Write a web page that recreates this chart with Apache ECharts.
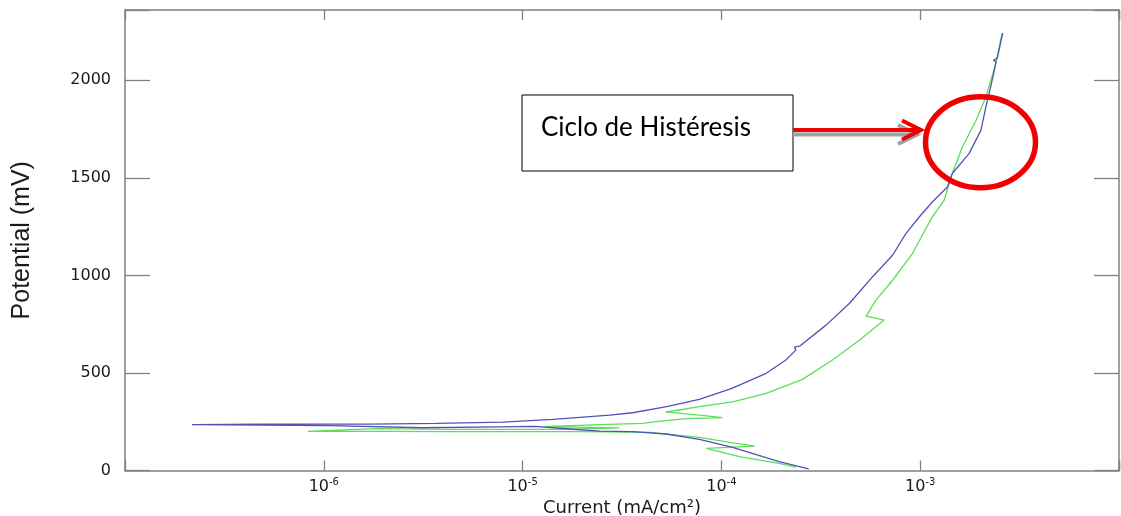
<!DOCTYPE html>
<html>
<head>
<meta charset="utf-8">
<script src="https://cdn.jsdelivr.net/npm/echarts@6/dist/echarts.min.js"></script>
<style>
  html, body { margin: 0; padding: 0; background: #fff; }
  #chart { width: 1121px; height: 516px; }
</style>
</head>
<body>
<div id="chart"></div>
<script>
// ---- data ----
// forward scan (blue): current (mA/cm²) and potential (mV), in scan order
const blueCurrent = [2.75e-4, 1.95e-4, 1.14e-4, 7.74e-5, 5.27e-5, 3.58e-5, 2.44e-5, 1.66e-5, 1.15e-5, 7.4e-6,
  3.14e-6, 1.07e-6, 2.17e-7, 4.76e-7, 1.70e-6, 3.68e-6, 7.92e-6, 1.42e-5, 2.09e-5, 2.74e-5,
  3.58e-5, 5.30e-5, 7.74e-5, 1.13e-4, 1.68e-4, 2.11e-4, 2.37e-4, 2.33e-4, 2.49e-4, 3.36e-4,
  4.40e-4, 5.75e-4, 7.26e-4, 8.47e-4, 9.89e-4, 1.15e-3, 1.37e-3, 1.45e-3, 1.76e-3, 2.02e-3,
  2.14e-3, 2.26e-3, 2.36e-3, 2.41e-3, 2.33e-3, 2.44e-3, 2.49e-3, 2.60e-3];
const bluePotential = [8, 45, 119, 160, 187, 199, 202, 214, 226, 224,
  219, 230, 235, 238, 238, 242, 248, 262, 275, 284,
  296, 327, 365, 421, 498, 566, 617, 632, 639, 745,
  856, 992, 1103, 1214, 1299, 1376, 1453, 1522, 1624, 1743,
  1863, 1965, 2051, 2097, 2102, 2112, 2153, 2242];
// reverse scan (green)
const greenCurrent = [2.58e-3, 2.40e-3, 2.14e-3, 1.91e-3, 1.63e-3, 1.45e-3, 1.32e-3, 1.15e-3, 9.14e-4, 7.26e-4,
  5.99e-4, 5.35e-4, 6.59e-4, 4.94e-4, 3.62e-4, 2.56e-4, 1.68e-4, 1.14e-4, 7.74e-5, 6.15e-5,
  5.23e-5, 7.74e-5, 1.01e-4, 6.65e-5, 4.70e-5, 4.01e-5, 2.44e-5, 1.29e-5, 3.07e-5, 1.53e-5,
  4.30e-6, 1.85e-6, 1.85e-6, 8.31e-7, 1.91e-6, 4.45e-6, 2.00e-5, 4.35e-5, 7.74e-5, 1.14e-4,
  1.47e-4, 8.38e-5, 1.23e-4, 1.95e-4, 2.38e-4];
const greenPotential = [2240, 2085, 1914, 1795, 1658, 1522, 1385, 1300, 1112, 975,
  873, 791, 771, 668, 566, 467, 395, 352, 327, 310,
  300, 284, 271, 266, 250, 242, 235, 225, 218, 211,
  211, 215, 207, 201, 201, 199, 199, 195, 170, 142,
  125, 113, 71, 37, 16];
// tick labels
const xLabelExponents = [-6, -5, -4, -3];
const yTickLabels = [0, 500, 1000, 1500, 2000];
const xAxisTitle = 'Current (mA/cm²)';
const yAxisTitle = 'Potential (mV)';
const noteText = 'Ciclo de Histéresis';

const pairs = (xs, ys) => xs.map((x, i) => [x, ys[i]]);

const axisGray = '#808080';
const labelFont = 'DejaVu Sans';

const chart = echarts.init(document.getElementById('chart'), null, { renderer: 'canvas' });

const xBase = {
  type: 'log', logBase: 10, min: 1e-7, max: 1e-2,
  axisLine: { show: true, onZero: false, lineStyle: { color: axisGray, width: 1.5 } },
  axisTick: { show: true, inside: true, length: 10, lineStyle: { color: axisGray, width: 1.3 } },
  splitLine: { show: false }, minorTick: { show: false }, minorSplitLine: { show: false }
};
const yBase = {
  type: 'value', min: 0, max: 2360, interval: 500,
  axisLine: { show: true, onZero: false, lineStyle: { color: axisGray, width: 1.5 } },
  axisTick: { show: true, inside: true, length: 25, lineStyle: { color: axisGray, width: 1.3 } },
  splitLine: { show: false }
};

const option = {
  animation: false,
  backgroundColor: '#fff',
  grid: { left: 125, right: 2, top: 10, bottom: 45.5, containLabel: false, outerBoundsMode: 'none' },
  xAxis: [
    Object.assign({}, xBase, {
      position: 'bottom',
      axisLabel: {
        margin: 7,
        formatter: function (v) {
          const e = Math.round(Math.log10(v));
          if (xLabelExponents.indexOf(e) < 0) return '';
          return '{b|10}{s|' + e + '}';
        },
        rich: {
          b: { fontFamily: labelFont, fontSize: 16, color: '#1a1a1a', lineHeight: 17, padding: [5, 0, 0, 0], verticalAlign: 'bottom' },
          s: { fontFamily: labelFont, fontSize: 10, color: '#1a1a1a', lineHeight: 10, verticalAlign: 'top' }
        }
      },
      name: xAxisTitle, nameLocation: 'middle', nameGap: 28,
      nameTextStyle: { fontFamily: labelFont, fontSize: 18, color: '#1a1a1a' }
    }),
    Object.assign({}, xBase, { position: 'top', axisLabel: { show: false } })
  ],
  yAxis: [
    Object.assign({}, yBase, {
      position: 'left',
      axisLabel: {
        margin: 14, fontFamily: labelFont, fontSize: 16, color: '#1a1a1a',
        formatter: function (v) { return yTickLabels.indexOf(v) >= 0 ? String(v) : ''; }
      },
      name: yAxisTitle, nameLocation: 'middle', nameGap: 90, nameRotate: 90,
      nameTextStyle: { fontFamily: 'Liberation Sans', fontSize: 25, color: '#1a1a1a' }
    }),
    Object.assign({}, yBase, { position: 'right', axisLabel: { show: false } })
  ],
  series: [
    {
      name: 'forward', type: 'line', xAxisIndex: 0, yAxisIndex: 0,
      data: pairs(blueCurrent, bluePotential),
      showSymbol: false, symbol: 'none', smooth: false,
      lineStyle: { color: '#5252b4', width: 1.3 }, z: 3
    },
    {
      name: 'reverse', type: 'line', xAxisIndex: 0, yAxisIndex: 0,
      data: pairs(greenCurrent, greenPotential),
      showSymbol: false, symbol: 'none', smooth: false,
      lineStyle: { color: '#5cde5c', width: 1.3 }, z: 2
    }
  ],
  graphic: [
    { type: 'rect', shape: { x: 522, y: 95, width: 271, height: 76 },
      style: { fill: '#fff', stroke: '#000', lineWidth: 1 }, z: 10 },
    { type: 'text', x: 541, y: 128,
      style: { text: noteText, fontFamily: 'Lato', fontSize: 26, fill: '#000', verticalAlign: 'middle', align: 'left' }, z: 11 },
    { type: 'polyline', shape: { points: [[793, 134.5], [915, 134.5]] },
      style: { stroke: '#a0a0a0', lineWidth: 4, fill: 'none' }, z: 10 },
    { type: 'polyline', shape: { points: [[898, 125], [917, 134.5], [898, 144]] },
      style: { stroke: '#a0a0a0', lineWidth: 4, fill: 'none' }, z: 10 },
    { type: 'polyline', shape: { points: [[793, 130], [919, 130]] },
      style: { stroke: '#f00000', lineWidth: 4, fill: 'none' }, z: 11 },
    { type: 'polyline', shape: { points: [[902, 120.5], [921, 130], [902, 139.5]] },
      style: { stroke: '#f00000', lineWidth: 4, fill: 'none', lineJoin: 'miter' }, z: 11 },
    { type: 'ellipse', shape: { cx: 980.5, cy: 142.3, rx: 55, ry: 45.5 },
      style: { fill: 'none', stroke: '#f00000', lineWidth: 5.5 }, z: 11 }
  ]
};
chart.setOption(option);
</script>
</body>
</html>
